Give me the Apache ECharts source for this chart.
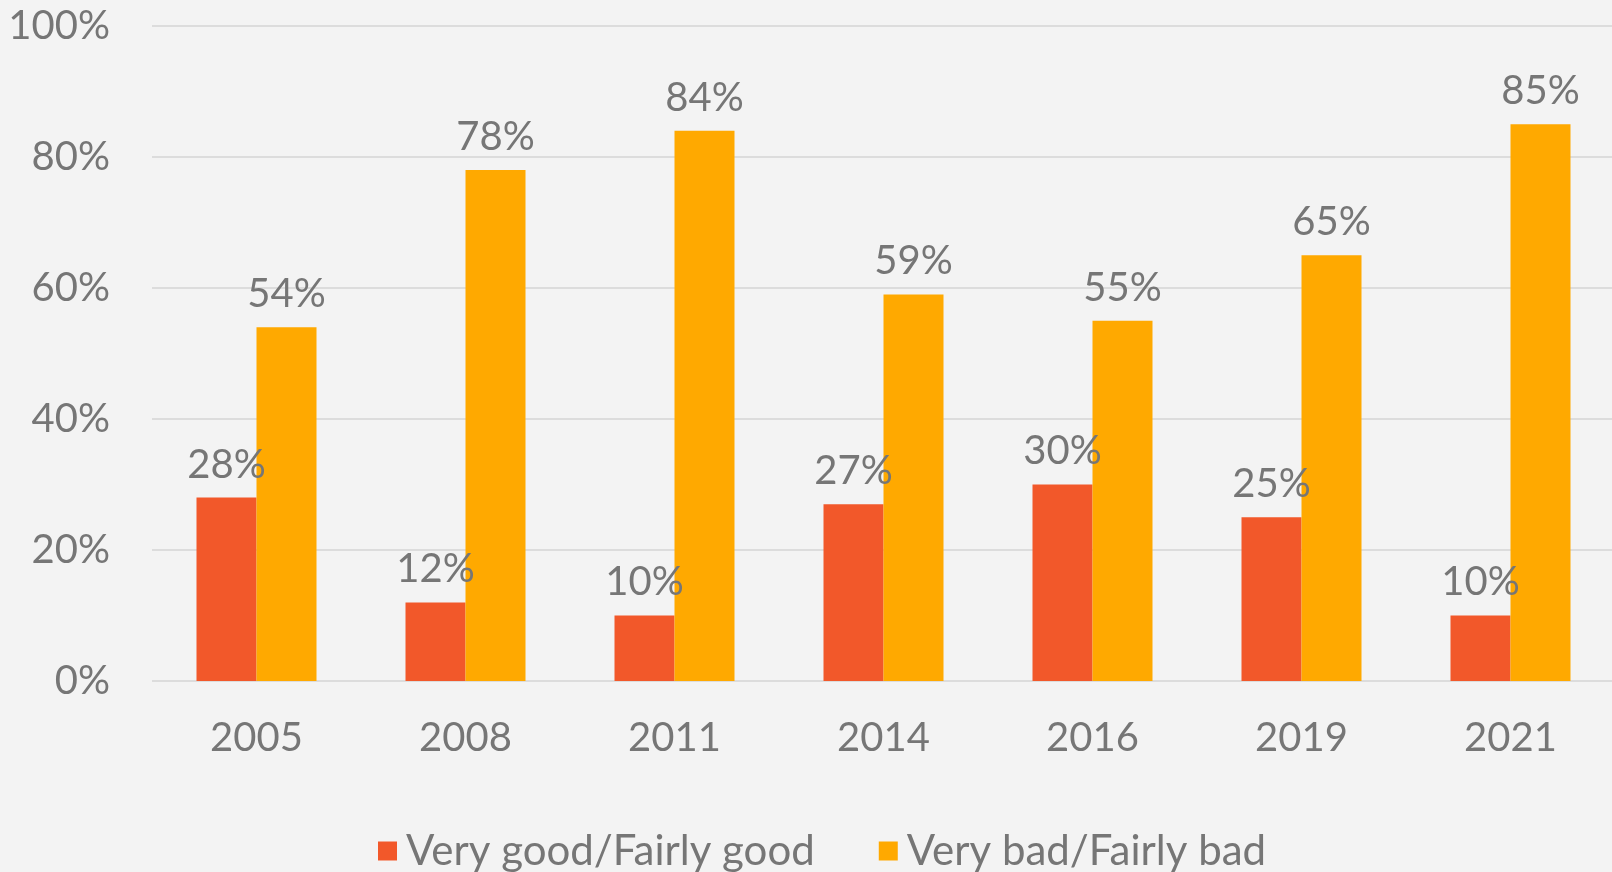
<!DOCTYPE html>
<html>
<head>
<meta charset="utf-8">
<script src="https://cdn.jsdelivr.net/npm/echarts@6/dist/echarts.min.js"></script>
<style>
  html, body { margin: 0; padding: 0; background: #f3f3f3; }
  #chart { width: 1612px; height: 872px; }
</style>
</head>
<body>
<div id="chart"></div>
<script>
var years = ["2005", "2008", "2011", "2014", "2016", "2019", "2021"];
var good = [28, 12, 10, 27, 30, 25, 10];
var bad = [54, 78, 84, 59, 55, 65, 85];
var yTicks = [0, 20, 40, 60, 80, 100];

var chart = echarts.init(document.getElementById("chart"));
var font = "Lato";
var textColor = "#767676";

var option = {
  backgroundColor: "#f3f3f3",
  textStyle: { fontFamily: font },
  grid: { left: 152, right: -3, top: 26, bottom: 191, outerBoundsMode: "none" },
  legend: {
    bottom: -5,
    left: 373,
    itemWidth: 19,
    itemHeight: 19,
    itemGap: 64,
    icon: "rect",
    textStyle: { fontSize: 42, color: textColor, fontFamily: font, padding: [0, 0, 0, 4] },
    data: ["Very good/Fairly good", "Very bad/Fairly bad"]
  },
  xAxis: {
    type: "category",
    data: years,
    axisLine: { show: false },
    axisTick: { show: false },
    axisLabel: { fontSize: 40, color: textColor, margin: 37 }
  },
  yAxis: {
    type: "value",
    min: yTicks[0],
    max: yTicks[yTicks.length - 1],
    interval: 20,
    splitLine: { lineStyle: { color: "#dcdcdc", width: 2 } },
    axisLabel: {
      fontSize: 40,
      color: textColor,
      margin: 42,
      formatter: function (v) { return v + "%"; }
    }
  },
  series: [
    {
      name: "Very good/Fairly good",
      type: "bar",
      data: good,
      barWidth: 60,
      barGap: "0%",
      itemStyle: { color: "#f2582a" },
      label: {
        show: true,
        position: "top",
        distance: 13,
        fontSize: 40,
        color: textColor,
        formatter: "{c}%"
      }
    },
    {
      name: "Very bad/Fairly bad",
      type: "bar",
      data: bad,
      barWidth: 60,
      barGap: "0%",
      itemStyle: { color: "#ffa900" },
      label: {
        show: true,
        position: "top",
        distance: 13,
        fontSize: 40,
        color: textColor,
        formatter: "{c}%"
      }
    }
  ]
};

chart.setOption(option);
</script>
</body>
</html>
